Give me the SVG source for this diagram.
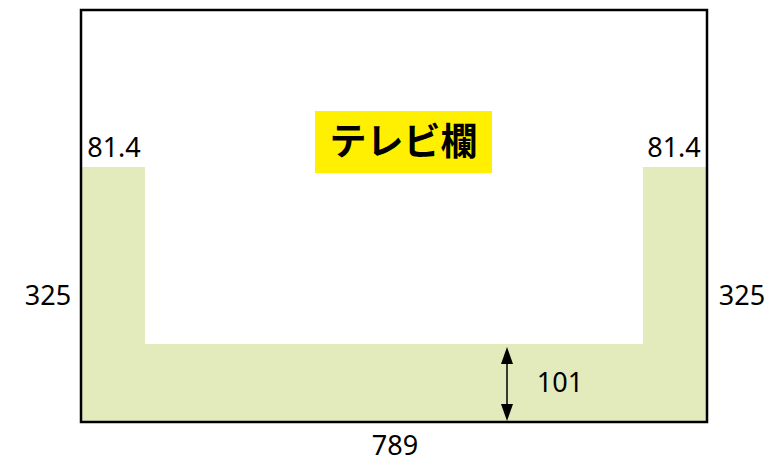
<svg xmlns="http://www.w3.org/2000/svg" width="777" height="462" viewBox="0 0 777 462">
<style>
.lbl{font-family:"Noto Sans","DejaVu Sans",sans-serif;font-size:27px;fill:#000}
.title{font-family:"Noto Sans CJK JP","Noto Sans",sans-serif;font-size:37px;font-weight:bold;fill:#000}
.fill{fill:#e3ebbd}
</style>
<rect x="0" y="0" width="777" height="462" fill="#fff"/>
<g id="shelf">
<path class="fill" d="M82,167 H145 V344 H643 V167 H707 V422 H82 Z"/>
</g>
<g id="frame">
<rect x="81" y="10" width="626" height="412" fill="none" stroke="#000" stroke-width="2.5"/>
</g>
<g id="title">
<rect x="315" y="111" width="177" height="62" fill="#ffef00"/>
<text class="title" x="403.5" y="155" text-anchor="middle">テレビ欄</text>
</g>
<g id="connectors">
<line x1="507" y1="364" x2="507" y2="405" stroke="#000" stroke-width="1.5"/>
<path d="M507,347 L501,364 L513,364 Z" fill="#000"/>
<path d="M507,421 L501,404 L513,404 Z" fill="#000"/>
</g>
<g id="labels">
<text class="lbl" x="114" y="157" text-anchor="middle">81.4</text>
<text class="lbl" x="674" y="157" text-anchor="middle">81.4</text>
<text class="lbl" x="48" y="305" text-anchor="middle">325</text>
<text class="lbl" x="742" y="305" text-anchor="middle">325</text>
<text class="lbl" x="560" y="392" text-anchor="middle">101</text>
<text class="lbl" x="395" y="455" text-anchor="middle">789</text>
</g>
</svg>
